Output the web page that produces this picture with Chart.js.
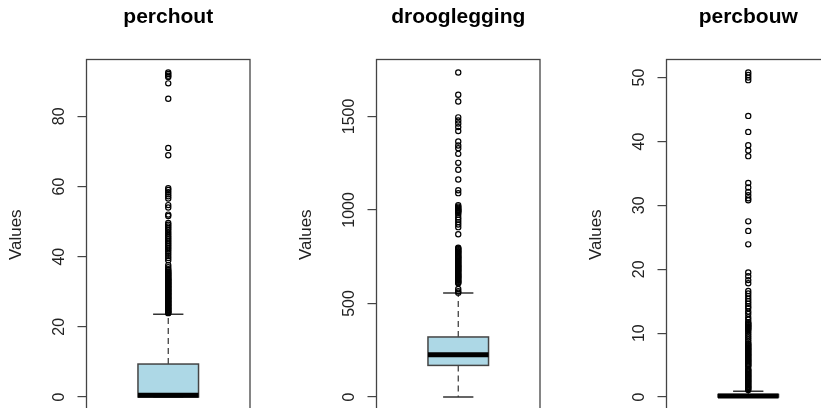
<!DOCTYPE html>
<html>
<head>
<meta charset="utf-8">
<script src="https://cdn.jsdelivr.net/npm/chart.js@4/dist/chart.umd.min.js"></script>
<style>
  html, body { margin: 0; padding: 0; background: #fff; }
  #wrap { position: relative; width: 821px; height: 408px; overflow: hidden; }
  .panel { position: absolute; top: 0; width: 290px; height: 440px; }
</style>
</head>
<body>
<div id="wrap">
  <div class="panel" style="left:0px"><canvas id="c1" width="290" height="440"></canvas></div>
  <div class="panel" style="left:290px"><canvas id="c2" width="290" height="440"></canvas></div>
  <div class="panel" style="left:580px"><canvas id="c3" width="290" height="440"></canvas></div>
</div>
<script>
// Variable names (panel titles)
const variableNames = ['perchout', 'drooglegging', 'percbouw'];
const axisLabel = 'Values';

// Box statistics: [lower whisker, Q1, median, Q3, upper whisker]
const perchoutBox     = [0, 0, 0.5, 9.4, 23.6];
const drooglegingBox  = [0, 169, 226, 321, 556];
const percbouwBox     = [0, 0, 0.15, 0.4, 0.9];

// Outlying observations
const perchoutOutliers = [
  92.5, 92.1, 91.6, 91.2, 89.4, 85.0, 71.0, 68.9,
  59.5, 59.0, 58.4, 57.8, 57.2, 56.6, 54.7, 54.0, 52.0, 51.6,
  49.6, 49.1, 48.6, 48.1, 47.6, 47.0, 46.5, 46.0, 45.5, 45.0, 44.5, 44.0,
  43.5, 43.0, 42.5, 42.0, 41.4, 40.8, 40.2, 39.6, 39.0,
  37.6, 37.0, 36.4, 36.1, 35.8, 35.5, 35.3, 35.0, 34.8, 34.5, 34.3, 34.0,
  33.8, 33.6, 33.4, 33.2, 33.0, 32.8, 32.6, 32.4, 32.2, 32.0, 31.8, 31.6,
  31.4, 31.2, 31.0, 30.8, 30.6, 30.4, 30.2, 30.0, 29.8, 29.6, 29.4, 29.2,
  29.0, 28.8, 28.6, 28.4, 28.2, 28.0, 27.8, 27.6, 27.4, 27.2, 27.0, 26.8,
  26.6, 26.4, 26.2, 26.0, 25.8, 25.6, 25.4, 25.2, 25.0, 24.8, 24.6, 24.4,
  24.2, 24.0, 23.9
];
const drooglegingOutliers = [
  1735, 1616, 1580, 1495, 1478, 1462, 1443, 1422,
  1366, 1345, 1330, 1300, 1252, 1215, 1163, 1105, 1090,
  1025, 1018, 1012, 1007, 1003, 998, 995, 990, 985, 975, 960, 948, 935, 922, 908, 870,
  798, 794, 790, 785, 780, 776, 772, 767, 762, 757, 752, 748, 744, 740, 735, 730,
  726, 721, 716, 711, 706, 702, 698, 694, 690, 685, 681, 676, 672, 667, 662, 657,
  652, 648, 644, 640, 636, 631, 626, 621, 616, 612, 608, 578, 566, 558
];
const percbouwOutliers = [
  50.8, 50.4, 50.0, 49.6, 44.0, 41.5, 39.4, 38.6, 37.7,
  33.5, 32.8, 32.1, 31.6, 31.1, 30.8, 27.5, 26.0, 23.9,
  19.5, 18.9, 18.3, 17.8, 16.6, 16.2, 15.8, 15.4, 15.0, 14.6, 14.2, 13.9,
  13.4, 13.0, 12.5, 12.1, 11.7, 11.55, 11.4, 11.25, 11.1, 10.95, 10.8, 10.65,
  10.5, 10.2, 9.9, 9.6, 9.3, 9.0, 8.7, 8.4, 8.25, 8.1, 7.95, 7.8, 7.65, 7.5,
  7.35, 7.2, 7.05, 6.9, 6.75, 6.6, 6.45, 6.3, 6.15, 6.0, 5.85, 5.7, 5.55,
  5.4, 5.25, 5.1, 4.95, 4.8, 4.4, 4.25, 4.1, 3.95, 3.8, 3.65, 3.5, 3.35,
  3.2, 3.05, 2.9, 2.75, 2.6, 2.45, 2.3, 2.15, 2.0, 1.85, 1.7, 1.55, 1.4,
  1.25, 1.1
];

// Y axis tick labels
const perchoutTicks    = [0, 20, 40, 60, 80];
const drooglegingTicks = [0, 500, 1000, 1500];
const percbouwTicks    = [0, 10, 20, 30, 40, 50];

const FONT = '"Liberation Sans", Arial, Helvetica, sans-serif';
Chart.defaults.font.family = FONT;

// Draws the frame, the box, median, dashed whiskers, staples and rotated tick labels
const boxPlotPlugin = {
  id: 'rbox',
  beforeDatasetsDraw(chart, args, opts) {
    const ctx = chart.ctx;
    const xs = chart.scales.x, ys = chart.scales.y;
    const [wLo, q1, med, q3, wHi] = opts.stats;
    const py = v => ys.getPixelForValue(v);
    const xc = xs.getPixelForValue(1);
    const xl = xs.getPixelForValue(1 - 0.2), xr = xs.getPixelForValue(1 + 0.2);
    const sl = xs.getPixelForValue(1 - 0.1), sr = xs.getPixelForValue(1 + 0.1);
    ctx.save();
    // whiskers
    ctx.strokeStyle = '#333';
    ctx.lineWidth = 1.2;
    ctx.setLineDash([6, 4]);
    ctx.beginPath();
    ctx.moveTo(xc, py(q3)); ctx.lineTo(xc, py(wHi));
    ctx.moveTo(xc, py(q1)); ctx.lineTo(xc, py(wLo));
    ctx.stroke();
    ctx.setLineDash([]);
    // staples
    ctx.lineWidth = 1.5;
    ctx.beginPath();
    ctx.moveTo(sl, py(wHi)); ctx.lineTo(sr, py(wHi));
    ctx.moveTo(sl, py(wLo)); ctx.lineTo(sr, py(wLo));
    ctx.stroke();
    // box
    ctx.fillStyle = '#ADD8E6';
    ctx.fillRect(xl, py(q3), xr - xl, py(q1) - py(q3));
    ctx.strokeStyle = '#444';
    ctx.lineWidth = 1.5;
    ctx.strokeRect(xl, py(q3), xr - xl, py(q1) - py(q3));
    // median
    ctx.strokeStyle = '#000';
    ctx.lineWidth = 5;
    ctx.beginPath();
    ctx.moveTo(xl, py(med)); ctx.lineTo(xr, py(med));
    ctx.stroke();
    ctx.restore();
  },
  afterDraw(chart, args, opts) {
    const ctx = chart.ctx;
    const a = chart.chartArea;
    const ys = chart.scales.y;
    ctx.save();
    // frame
    ctx.strokeStyle = '#444';
    ctx.lineWidth = 1.3;
    ctx.strokeRect(a.left, a.top, a.right - a.left, a.bottom - a.top);
    // rotated tick labels
    ctx.fillStyle = '#222';
    ctx.font = '16px ' + FONT;
    ctx.textAlign = 'center';
    ctx.textBaseline = 'alphabetic';
    ys.ticks.forEach(t => {
      ctx.save();
      ctx.translate(a.left - 22.5, ys.getPixelForValue(t.value));
      ctx.rotate(-Math.PI / 2);
      ctx.fillText(String(t.value), 0, 0);
      ctx.restore();
    });
    ctx.restore();
  }
};

function makePanel(id, name, stats, outliers, ticks) {
  const all = stats.concat(outliers);
  const lo = Math.min(...all), hi = Math.max(...all);
  const pad = (hi - lo) * 0.04;
  new Chart(document.getElementById(id), {
    type: 'scatter',
    data: {
      datasets: [{
        data: outliers.map(v => ({ x: 1, y: v })),
        pointStyle: 'circle',
        pointRadius: 2.6,
        pointBorderWidth: 1.2,
        borderColor: '#000',
        backgroundColor: 'rgba(0,0,0,0)'
      }]
    },
    options: {
      responsive: false,
      animation: false,
      devicePixelRatio: 1,
      events: [],
      layout: { padding: { top: 0, left: 0, right: 40, bottom: 30 } },
      plugins: {
        legend: { display: false },
        tooltip: { enabled: false },
        title: {
          display: true,
          text: name,
          fullSize: false,
          color: '#000',
          font: { size: 21, weight: 'bold', family: FONT, lineHeight: 1.2 },
          padding: { top: 5, bottom: 29.3 }
        },
        rbox: { stats: stats }
      },
      scales: {
        x: { type: 'linear', display: false, min: 0.46, max: 1.54 },
        y: {
          type: 'linear',
          position: 'left',
          min: lo - pad,
          max: hi + pad,
          afterBuildTicks: s => { s.ticks = ticks.map(v => ({ value: v })); },
          afterFit: s => { s.width = 86.5; },
          ticks: { display: false },
          border: { display: false },
          grid: { drawOnChartArea: false, drawTicks: true, tickLength: 9, color: '#444', lineWidth: 1.2 },
          title: {
            display: true,
            text: axisLabel,
            color: '#222',
            font: { size: 17, family: FONT, lineHeight: 1.2 },
            padding: { top: 6, bottom: 0 }
          }
        }
      }
    },
    plugins: [boxPlotPlugin]
  });
}

makePanel('c1', variableNames[0], perchoutBox, perchoutOutliers, perchoutTicks);
makePanel('c2', variableNames[1], drooglegingBox, drooglegingOutliers, drooglegingTicks);
makePanel('c3', variableNames[2], percbouwBox, percbouwOutliers, percbouwTicks);
</script>
</body>
</html>
